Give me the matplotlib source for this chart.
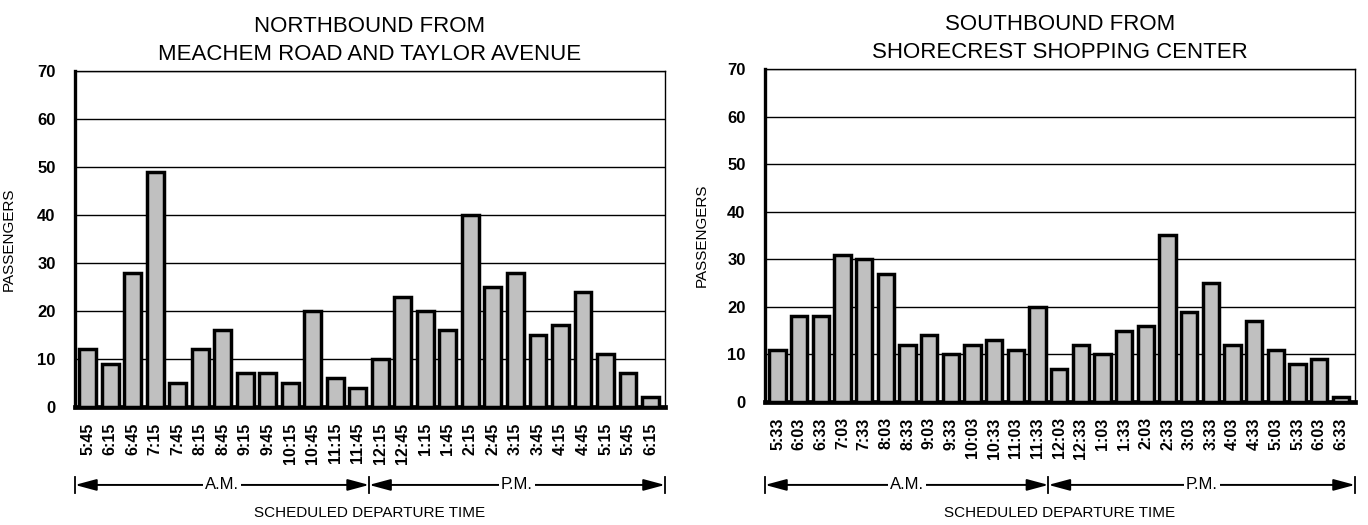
import matplotlib
matplotlib.use("Agg")
import matplotlib.pyplot as plt
import matplotlib.transforms as mtransforms

plt.rcParams['font.family'] = ['Liberation Sans', 'DejaVu Sans']

# northbound from Meachem Road and Taylor Avenue
north_times = ["5:45", "6:15", "6:45", "7:15", "7:45", "8:15", "8:45", "9:15", "9:45",
               "10:15", "10:45", "11:15", "11:45", "12:15", "12:45", "1:15", "1:45",
               "2:15", "2:45", "3:15", "3:45", "4:15", "4:45", "5:15", "5:45", "6:15"]
north_pass = [12, 9, 28, 49, 5, 12, 16, 7, 7, 5, 20, 6, 4,
              10, 23, 20, 16, 40, 25, 28, 15, 17, 24, 11, 7, 2]

# southbound from Shorecrest Shopping Center
south_times = ["5:33", "6:03", "6:33", "7:03", "7:33", "8:03", "8:33", "9:03", "9:33",
               "10:03", "10:33", "11:03", "11:33", "12:03", "12:33", "1:03", "1:33",
               "2:03", "2:33", "3:03", "3:33", "4:03", "4:33", "5:03", "5:33", "6:03", "6:33"]
south_pass = [11, 18, 18, 31, 30, 27, 12, 14, 10, 12, 13, 11, 20,
              7, 12, 10, 15, 16, 35, 19, 25, 12, 17, 11, 8, 9, 1]

am_count_north = 13
am_count_south = 13

titles = ["NORTHBOUND FROM\nMEACHEM ROAD AND TAYLOR AVENUE",
          "SOUTHBOUND FROM\nSHORECREST SHOPPING CENTER"]

fig = plt.figure(figsize=(13.68, 5.25), dpi=100)
ax1 = fig.add_axes([0.0548, 0.2248, 0.4313, 0.640])
ax2 = fig.add_axes([0.5592, 0.2343, 0.4313, 0.6343])


def draw_panel(ax, times, vals, n_am, title, xlim, arrow_y, xlab_y, ylab_x):
    x = list(range(len(times)))
    ax.bar(x, vals, width=0.75, color='#c0c0c0', edgecolor='black',
           linewidth=2.5, zorder=3)
    ax.set_xlim(*xlim)
    ax.set_ylim(0, 70)
    ax.set_yticks(range(0, 71, 10))
    ax.yaxis.grid(True, color='black', linewidth=1.0, zorder=0)
    ax.set_axisbelow(True)
    ax.set_xticks(x)
    ax.set_xticklabels(times, rotation=90, fontsize=11.5, fontweight='bold')
    for lab in ax.get_yticklabels():
        lab.set_fontsize(12)
        lab.set_fontweight('bold')
    ax.tick_params(axis='both', length=0)
    ax.tick_params(axis='x', pad=11)
    ax.tick_params(axis='y', pad=14)
    ax.spines['left'].set_linewidth(2.4)
    ax.spines['bottom'].set_linewidth(3.4)
    ax.spines['right'].set_linewidth(1.0)
    ax.spines['top'].set_linewidth(1.0)
    ax.set_title(title, fontsize=16, linespacing=1.45, pad=8)
    ax.set_ylabel("PASSENGERS", fontsize=11)
    ax.yaxis.set_label_coords(ylab_x, 0.5)

    # A.M. / P.M. arrows below the tick labels
    tr = mtransforms.blended_transform_factory(ax.transData, ax.transAxes)
    sep = n_am - 0.5
    segs = [(xlim[0], sep, "A.M."), (sep, xlim[1], "P.M.")]
    for a, b, lab in segs:
        ax.annotate("", xy=(a, arrow_y), xytext=(b, arrow_y), xycoords=tr,
                    textcoords=tr, annotation_clip=False,
                    arrowprops=dict(arrowstyle='<|-|>,head_length=1.3,head_width=0.35',
                                    color='black', lw=1.4, shrinkA=0, shrinkB=0,
                                    mutation_scale=10))
        ax.text((a + b) / 2, arrow_y, lab, transform=tr, ha='center', va='center',
                fontsize=12, bbox=dict(facecolor='white', edgecolor='none', pad=1.5),
                clip_on=False)
    for xv in (xlim[0], sep, xlim[1]):
        ax.plot([xv, xv], [arrow_y - 0.025, arrow_y + 0.025], transform=tr,
                color='black', lw=1.3, clip_on=False)
    ax.text(sum(xlim) / 2, xlab_y, "SCHEDULED DEPARTURE TIME", transform=tr,
            ha='center', va='center', fontsize=11, clip_on=False)


draw_panel(ax1, north_times, north_pass, am_count_north, titles[0],
           (-0.56, 25.64), -0.232, -0.315, -0.1)
draw_panel(ax2, south_times, south_pass, am_count_south, titles[1],
           (-0.58, 26.65), -0.249, -0.333, -0.095)

fig.savefig("out.png", dpi=100)
